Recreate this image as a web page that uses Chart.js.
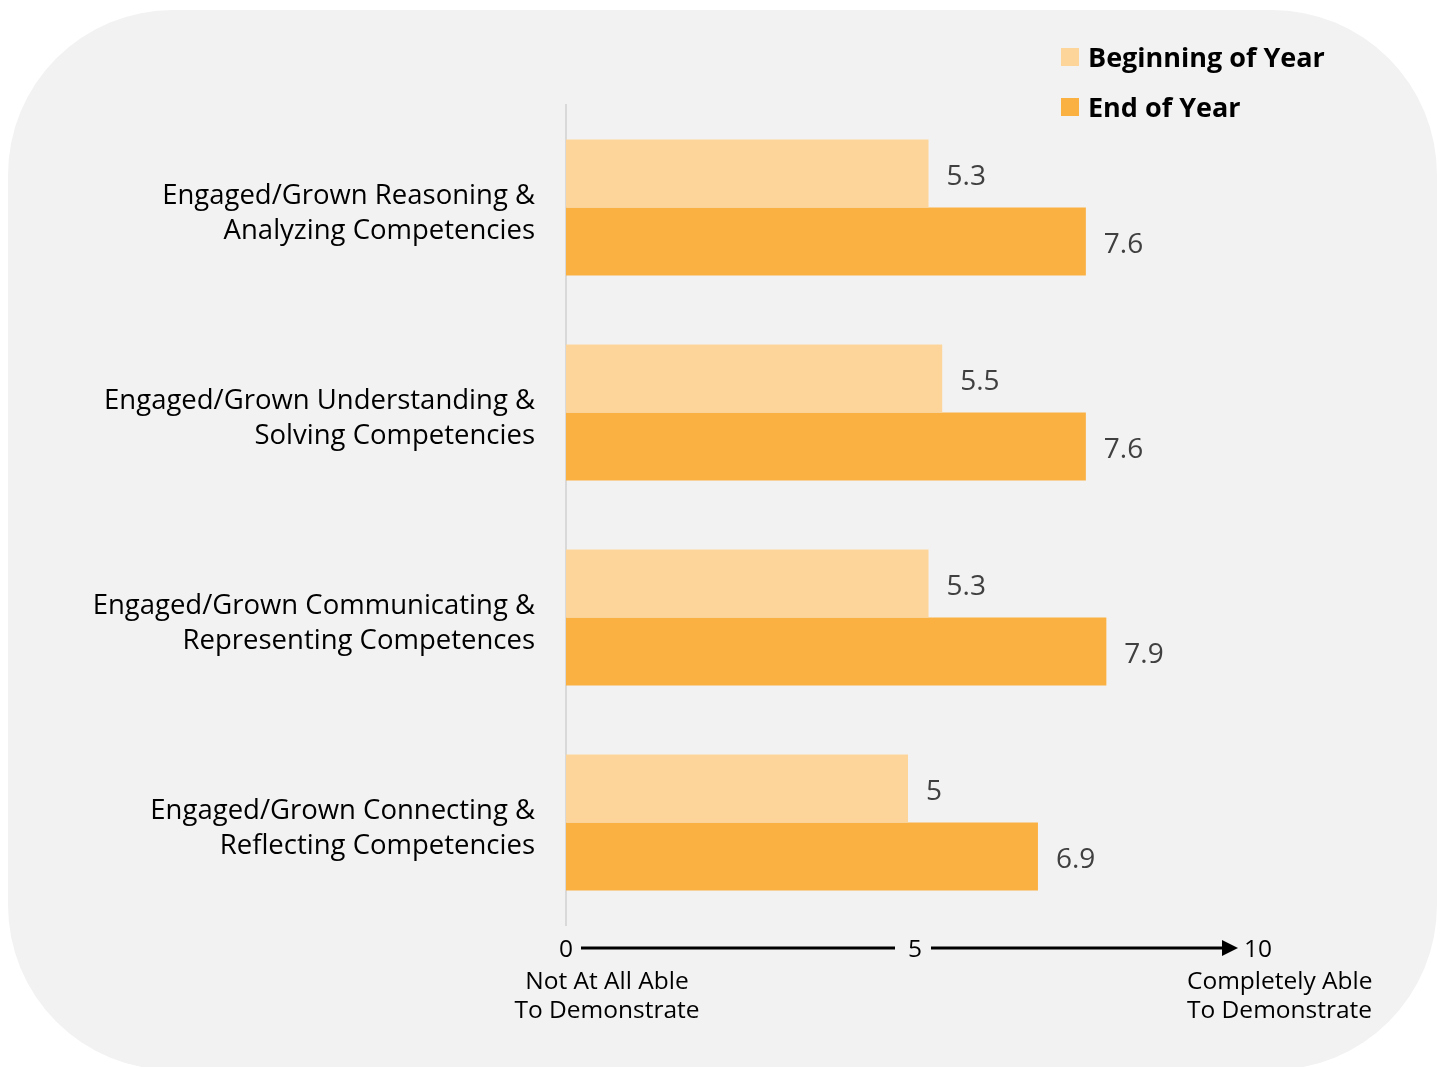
<!DOCTYPE html>
<html>
<head>
<meta charset="utf-8">
<script src="https://cdn.jsdelivr.net/npm/chart.js@4"></script>
<style>
  html, body { margin: 0; padding: 0; background: #ffffff; }
  #wrap { width: 1443px; height: 1067px; position: relative; }
</style>
</head>
<body>
<div id="wrap"><canvas id="myChart" width="1443" height="1067"></canvas></div>
<script>
// Data
const categories = [
    ['Engaged/Grown Reasoning &', 'Analyzing Competencies'],
    ['Engaged/Grown Understanding &', 'Solving Competencies'],
    ['Engaged/Grown Communicating &', 'Representing Competences'],
    ['Engaged/Grown Connecting &', 'Reflecting Competencies']
];
const beginningOfYear = [5.3, 5.5, 5.3, 5];
const endOfYear = [7.6, 7.6, 7.9, 6.9];
const seriesNames = ['Beginning of Year', 'End of Year'];
const tickValues = [0, 5, 10];
const lowLabel = ['Not At All Able', 'To Demonstrate'];
const highLabel = ['Completely Able', 'To Demonstrate'];

const FONT = "'Open Sans', 'Noto Sans', sans-serif";

// Rounded grey panel behind everything
const panelPlugin = {
    id: 'panel',
    beforeDraw(chart) {
        const ctx = chart.ctx;
        ctx.save();
        ctx.fillStyle = '#f2f2f2';
        ctx.beginPath();
        ctx.roundRect(8, 10, 1429, 1060, 165);
        ctx.fill();
        ctx.restore();
    }
};

// Category labels, right aligned against the axis line
const categoryLabels = {
    id: 'categoryLabels',
    afterDraw(chart) {
        const ctx = chart.ctx;
        const y = chart.scales.y;
        ctx.save();
        ctx.font = '27.5px ' + FONT;
        ctx.fillStyle = '#000000';
        ctx.textAlign = 'right';
        ctx.textBaseline = 'middle';
        chart.data.labels.forEach((lines, i) => {
            const c = y.getPixelForValue(i);
            ctx.fillText(lines[0], 535, c - 17.5 + 6);
            ctx.fillText(lines[1], 535, c + 17.5 + 6);
        });
        ctx.restore();
    }
};

// Value labels at the end of each bar
const valueLabels = {
    id: 'valueLabels',
    afterDatasetsDraw(chart) {
        const ctx = chart.ctx;
        ctx.save();
        ctx.font = '28px ' + FONT;
        ctx.fillStyle = '#404040';
        ctx.textAlign = 'left';
        ctx.textBaseline = 'middle';
        chart.data.datasets.forEach((ds, i) => {
            chart.getDatasetMeta(i).data.forEach((bar, j) => {
                ctx.fillText(String(ds.data[j]), bar.x + 18, bar.y + 4);
            });
        });
        ctx.restore();
    }
};

// Legend drawn top right, stacked
const customLegend = {
    id: 'customLegend',
    afterDraw(chart) {
        const ctx = chart.ctx;
        ctx.save();
        ctx.font = 'bold 27px ' + FONT;
        ctx.textBaseline = 'middle';
        ctx.textAlign = 'left';
        chart.data.datasets.forEach((ds, i) => {
            const y = 57 + i * 50;
            ctx.fillStyle = ds.backgroundColor;
            ctx.fillRect(1061, y - 9, 18, 18);
            ctx.fillStyle = '#000000';
            ctx.fillText(ds.label, 1088, y + 2);
        });
        ctx.restore();
    }
};

// Bottom arrow axis: 0 ---- 5 ----> 10
const arrowAxis = {
    id: 'arrowAxis',
    afterDraw(chart) {
        const ctx = chart.ctx;
        const x = chart.scales.x;
        const y = 948;
        const p0 = x.getPixelForValue(tickValues[0]);
        const p5 = x.getPixelForValue(tickValues[1]) + 7;
        const p10 = x.getPixelForValue(tickValues[2]) + 8;
        ctx.save();
        ctx.font = '24.5px ' + FONT;
        ctx.fillStyle = '#000000';
        ctx.textAlign = 'center';
        ctx.textBaseline = 'middle';
        ctx.fillText(String(tickValues[0]), p0, y + 2);
        ctx.fillText(String(tickValues[1]), p5, y + 2);
        ctx.fillText(String(tickValues[2]), p10, y + 2);

        ctx.strokeStyle = '#000000';
        ctx.lineWidth = 3;
        ctx.beginPath();
        ctx.moveTo(p0 + 15, y);
        ctx.lineTo(p5 - 20, y);
        ctx.moveTo(p5 + 16, y);
        ctx.lineTo(p10 - 30, y);
        ctx.stroke();
        // arrow head
        ctx.beginPath();
        ctx.moveTo(p10 - 36, y - 8);
        ctx.lineTo(p10 - 20, y);
        ctx.lineTo(p10 - 36, y + 8);
        ctx.closePath();
        ctx.fill();

        ctx.fillText(lowLabel[0], p0 + 41, 982);
        ctx.fillText(lowLabel[1], p0 + 41, 1011);
        ctx.textAlign = 'left';
        ctx.fillText(highLabel[0], p10 - 71, 982);
        ctx.fillText(highLabel[1], p10 - 71, 1011);
        ctx.restore();
    }
};

const data = {
    labels: categories,
    datasets: [
        {
            label: seriesNames[0],
            data: beginningOfYear,
            backgroundColor: '#fdd59a',
            borderWidth: 0
        },
        {
            label: seriesNames[1],
            data: endOfYear,
            backgroundColor: '#fbb042',
            borderWidth: 0
        }
    ]
};

const config = {
    type: 'bar',
    data,
    options: {
        indexAxis: 'y',
        responsive: false,
        animation: false,
        categoryPercentage: 0.664,
        barPercentage: 1,
        layout: {
            padding: { left: 0, right: 193, top: 105, bottom: 142 }
        },
        scales: {
            x: {
                min: 0,
                max: 10,
                display: false
            },
            y: {
                afterFit(scale) { scale.width = 566; },
                grid: { display: false, drawTicks: false },
                border: { display: true, color: '#d9d9d9', width: 2 },
                ticks: { display: false }
            }
        },
        plugins: {
            legend: { display: false },
            tooltip: { enabled: false }
        }
    },
    plugins: [panelPlugin, categoryLabels, valueLabels, customLegend, arrowAxis]
};

window.myChart = new Chart(document.getElementById('myChart'), config);
</script>
</body>
</html>
